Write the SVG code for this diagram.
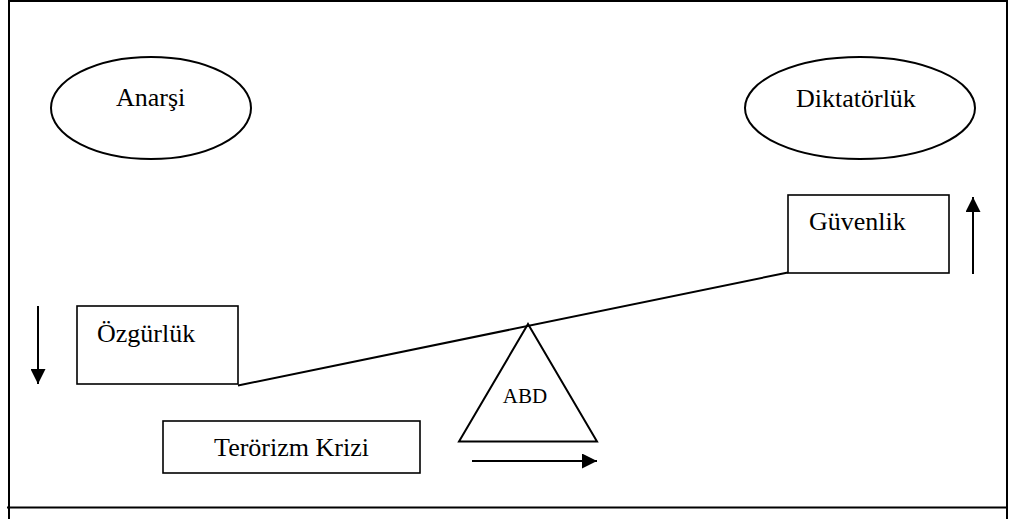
<svg xmlns="http://www.w3.org/2000/svg" width="1011" height="519" viewBox="0 0 1011 519">
  <style>
    .frame { stroke: #000; stroke-width: 2; fill: none; }
    .shape { stroke: #000; stroke-width: 2; fill: #fff; }
    .box { stroke: #000; stroke-width: 1.6; fill: #fff; }
    .conn { stroke: #000; stroke-width: 2; fill: none; }
    .lbl { font-family: "Liberation Serif", "Times New Roman", serif; font-size: 26px; fill: #000; }
    .small { font-size: 21px; }
  </style>
  <defs>
    <marker id="arrow" viewBox="0 0 10 10" refX="10" refY="5" markerWidth="15" markerHeight="15" markerUnits="userSpaceOnUse" orient="auto">
      <path d="M0,0 L10,5 L0,10 Z" fill="#000"/>
    </marker>
  </defs>
  <rect x="0" y="0" width="1011" height="519" fill="#fff"/>
  <g id="frame">
    <line class="frame" x1="9" y1="1" x2="1007" y2="1"/>
    <line class="frame" x1="9" y1="0" x2="9" y2="519"/>
    <line class="frame" x1="1007" y1="0" x2="1007" y2="519"/>
    <line class="frame" x1="7" y1="507.5" x2="1008" y2="507.5"/>
  </g>
  <g id="anarsi">
    <ellipse class="shape" cx="151" cy="108" rx="100" ry="51"/>
    <text class="lbl" x="116" y="106">Anarşi</text>
  </g>
  <g id="diktatorluk">
    <ellipse class="shape" cx="860" cy="108" rx="115" ry="51"/>
    <text class="lbl" x="796" y="107">Diktatörlük</text>
  </g>
  <g id="ozgurluk">
    <rect class="box" x="77" y="306" width="161" height="78"/>
    <text class="lbl" x="97" y="342">Özgürlük</text>
  </g>
  <g id="guvenlik">
    <rect class="box" x="788" y="195" width="161" height="78"/>
    <text class="lbl" x="809" y="230">Güvenlik</text>
  </g>
  <g id="terorizm">
    <rect class="box" x="163" y="421" width="257" height="52"/>
    <text class="lbl" x="291.5" y="456" text-anchor="middle">Terörizm Krizi</text>
  </g>
  <g id="abd">
    <polygon class="shape" points="528,324 459,441.5 597,441.5"/>
    <text class="lbl small" x="525" y="403" text-anchor="middle">ABD</text>
  </g>
  <g id="connectors">
    <line class="conn" x1="238" y1="385.5" x2="788" y2="272.5"/>
    <line class="conn" x1="38" y1="306" x2="38" y2="384" marker-end="url(#arrow)"/>
    <line class="conn" x1="973" y1="274" x2="973" y2="197" marker-end="url(#arrow)"/>
    <line class="conn" x1="472" y1="461" x2="597" y2="461" marker-end="url(#arrow)"/>
  </g>
</svg>
